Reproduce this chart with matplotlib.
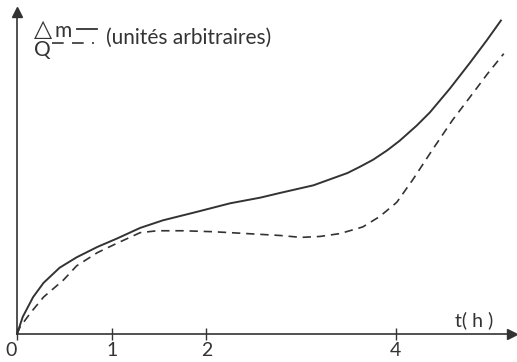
import matplotlib.pyplot as plt
from matplotlib.lines import Line2D

# values (t in hours, arbitrary units)
t_dm = [0, 0.06, 0.17, 0.28, 0.45, 0.63, 0.85, 1.06, 1.30, 1.54, 1.90, 2.25,
        2.57, 2.78, 3.13, 3.49, 3.62, 3.76, 3.91, 4.04, 4.22, 4.36, 4.57, 4.78,
        4.96, 5.11]
dm = [0, 0.18, 0.39, 0.54, 0.70, 0.81, 0.92, 1.01, 1.12, 1.20, 1.29, 1.38,
      1.44, 1.49, 1.57, 1.70, 1.765, 1.84, 1.94, 2.04, 2.20, 2.34, 2.59, 2.86,
      3.10, 3.31]

t_q = [0, 0.03, 0.14, 0.28, 0.49, 0.63, 0.85, 1.06, 1.30, 1.48, 1.75, 2.07, 2.43,
       2.78, 3.00, 3.20, 3.41, 3.65, 3.83, 4.01, 4.18, 4.39, 4.60, 4.82, 4.97, 5.14]
q = [0, 0.07, 0.22, 0.39, 0.57, 0.72, 0.86, 0.96, 1.07, 1.09, 1.09, 1.08, 1.06,
     1.04, 1.02, 1.03, 1.06, 1.13, 1.24, 1.39, 1.63, 1.95, 2.26, 2.55, 2.75, 2.96]

xticks = [0, 1, 2, 4]
x_axis_end = 5.23
y_axis_end = 3.40

plt.rcParams['font.family'] = ['Lato', 'DejaVu Sans']
ink = '#333333'
W, H = 517, 362


def fig_xy(x, y):
    # pixel position (from top-left) -> figure fraction
    return x / W, 1 - y / H


fig = plt.figure(figsize=(W / 100, H / 100), dpi=100)
ax = fig.add_axes([0, 0, 1, 1])
ax.set_xlim(-0.18, 5.28)
ax.set_ylim(-0.296, 3.527)

ax.plot(t_dm, dm, color=ink, lw=1.4)
ax.plot(t_q, q, color=ink, lw=1.2, dashes=(5, 3.5))

for side in ['top', 'right']:
    ax.spines[side].set_visible(False)
ax.spines['left'].set_position(('data', 0))
ax.spines['bottom'].set_position(('data', 0))
ax.spines['left'].set_bounds(0, y_axis_end)
ax.spines['bottom'].set_bounds(0, x_axis_end)
for side in ['left', 'bottom']:
    ax.spines[side].set_color(ink)
    ax.spines[side].set_linewidth(1.2)
ax.plot([x_axis_end], [0], marker='>', ms=7, color=ink, clip_on=False)
ax.plot([0], [y_axis_end], marker='^', ms=7, color=ink, clip_on=False)

ax.set_xticks(xticks)
ax.set_xticklabels([str(v) for v in xticks])
ax.tick_params(axis='x', direction='inout', length=8, width=1, colors=ink,
               labelsize=14, pad=2)
ax.get_xticklabels()[0].set_ha('right')
ax.set_yticks([])
ax.patch.set_alpha(0)

ax.text(4.83, 0.15, 't( h )', fontsize=14, color=ink, ha='center', va='center')

# hand-made legend: label first, line sample after it
fig.text(*fig_xy(34, 36), '△', fontsize=17, color=ink, va='baseline')
fig.text(*fig_xy(55, 37), 'm', fontsize=15, color=ink, va='baseline')
fig.add_artist(Line2D([77 / W, 97 / W], [1 - 29 / H] * 2, color=ink, lw=1.3))
fig.text(*fig_xy(34, 56), 'Q', fontsize=15, color=ink, va='baseline')
fig.add_artist(Line2D([52 / W, 94 / W], [1 - 43 / H] * 2, color=ink, lw=1.2,
                      dashes=(7, 5)))
fig.text(*fig_xy(106, 38), '(unités arbitraires)', fontsize=15,
         color=ink, va='center')

fig.savefig('out.png', dpi=100, facecolor='white')
